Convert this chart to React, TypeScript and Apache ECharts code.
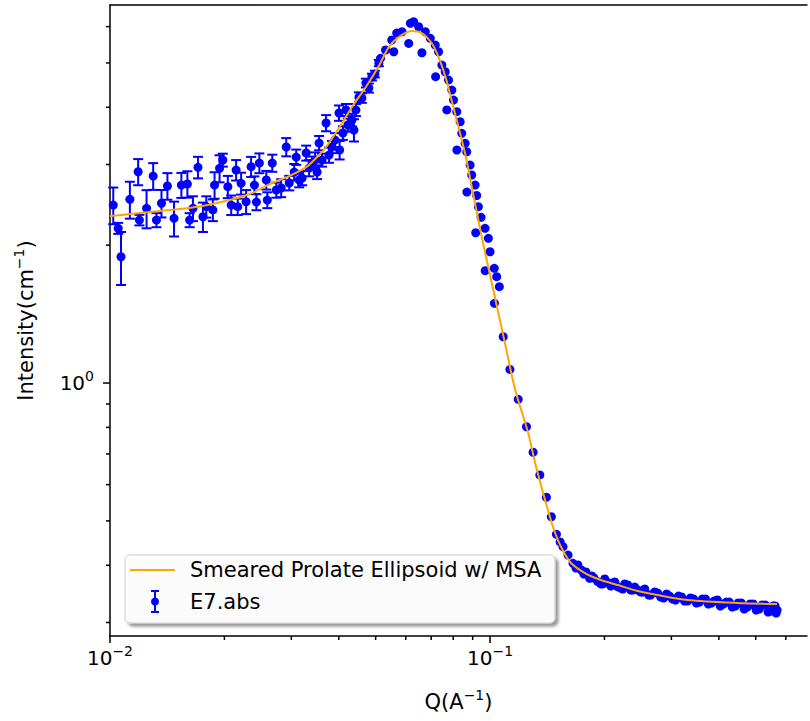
import React, { useEffect, useRef } from "react";
import * as echarts from "echarts";

const FONT = "DejaVu Sans";
const X_MIN = 0.01;
const X_MAX = 0.6823;
const Y_MIN = 0.2803;
const Y_MAX = 6.69;

// Measured data (E7.abs), low-Q part with visible error bars
const lowQ = [
  0.0102, 0.01051, 0.01069, 0.01128, 0.01186, 0.01195, 0.01248, 0.01299, 0.01325, 0.01366,
  0.01416, 0.01474, 0.01541, 0.01598, 0.0162, 0.01653, 0.01704, 0.01756, 0.01792, 0.01865,
  0.01884, 0.01942, 0.01981, 0.02042, 0.02084, 0.02147, 0.02168, 0.02213, 0.02281, 0.02351,
  0.02399, 0.02428, 0.02472, 0.02578, 0.02594, 0.02673, 0.02739, 0.02821, 0.02909, 0.02962,
  0.03052, 0.0309, 0.03146, 0.03203, 0.03282, 0.03342, 0.03403, 0.03465, 0.03507, 0.0355,
  0.03614, 0.03703, 0.0377, 0.03838, 0.03909, 0.04005, 0.0402, 0.04102, 0.04177, 0.04227,
  0.04331, 0.04384, 0.04437, 0.04519, 0.046, 0.04713, 0.04799, 0.04887, 0.04976, 0.05098,
];
const lowI = [
  2.447, 2.177, 1.887, 2.518, 2.893, 2.269, 2.407, 2.831, 2.269, 2.469,
  2.693, 2.289, 2.706, 2.72, 2.269, 2.407, 2.958, 2.307, 2.427, 2.387,
  2.706, 2.943, 3.068, 2.683, 2.447, 2.918, 2.427, 2.729, 2.488, 2.967,
  2.706, 2.484, 3.022, 2.775, 2.509, 3.022, 2.639, 2.666, 3.276, 2.734,
  2.888, 3.114, 2.775, 2.803, 3.179, 2.947, 3.022, 3.068, 2.888, 3.342,
  3.068, 3.696, 3.146, 3.276, 3.393, 3.887, 3.227, 3.515, 3.947, 3.659,
  3.752, 3.568, 3.947, 4.212, 4.191, 4.519, 4.407, 4.657, 4.728, 4.997,
];
const lowErr = [
  0.225, 0.06, 0.25, 0.233, 0.19, 0.06, 0.23, 0.19, 0.08, 0.17,
  0.18, 0.2, 0.17, 0.18, 0.08, 0.15, 0.16, 0.17, 0.13, 0.13,
  0.18, 0.2, 0.1, 0.15, 0.12, 0.15, 0.1, 0.15, 0.15, 0.15,
  0.12, 0.1, 0.15, 0.13, 0.1, 0.13, 0.1, 0.12, 0.15, 0.1,
  0.12, 0.12, 0.1, 0.1, 0.12, 0.12, 0.1, 0.12, 0.1, 0.12,
  0.1, 0.15, 0.12, 0.1, 0.12, 0.15, 0.15, 0.12, 0.12, 0.12,
  0.12, 0.2, 0.12, 0.1, 0.1, 0.1, 0.1, 0.08, 0.08, 0.08,
];

// Measured data, peak and high-Q part (error bars hidden under markers)
const highQ = [
  0.0515, 0.05308, 0.05513, 0.0558, 0.05681, 0.05866, 0.06109, 0.06171, 0.06295, 0.06488,
  0.06618, 0.06755, 0.06962, 0.07175, 0.0719, 0.07321, 0.07468, 0.07623, 0.07697, 0.07775,
  0.07932, 0.08014, 0.08175, 0.0818, 0.08344, 0.08425, 0.086, 0.08684, 0.0869, 0.08863,
  0.08949, 0.09134, 0.09168, 0.09223, 0.09317, 0.09471, 0.09703, 0.0971, 0.099, 0.1,
  0.1026, 0.1027, 0.1041, 0.1058, 0.1083, 0.1128, 0.1186, 0.1247, 0.1298, 0.1352,
  0.1407, 0.145, 0.1495, 0.1529, 0.1556, 0.1604, 0.1653, 0.1683, 0.1703, 0.1738,
  0.1766, 0.1788, 0.1828, 0.1853, 0.1876, 0.1921, 0.1957, 0.1981, 0.2004, 0.2042,
  0.2078, 0.2104, 0.2129, 0.2168, 0.2208, 0.2235, 0.2262, 0.2303, 0.2346, 0.2373,
  0.2403, 0.2446, 0.2492, 0.2521, 0.2553, 0.2616, 0.2646, 0.2712, 0.276, 0.2812,
  0.2862, 0.2915, 0.2968, 0.3022, 0.3077, 0.3133, 0.3191, 0.3249, 0.3308, 0.3368,
  0.343, 0.3492, 0.3556, 0.362, 0.3687, 0.3753, 0.3823, 0.3891, 0.3964, 0.4036,
  0.411, 0.4184, 0.4261, 0.4338, 0.4418, 0.4497, 0.4581, 0.4663, 0.475, 0.4836,
  0.4925, 0.5014, 0.5107, 0.52, 0.5297, 0.5391, 0.5491, 0.5556, 0.5623, 0.566,
  0.5692,
];
const highI = [
  5.117, 5.335, 5.61, 5.289, 5.81, 5.848, 5.516, 6.101, 6.15, 5.998,
  5.262, 5.848, 5.657, 5.47, 4.665, 5.289, 4.947, 4.783, 3.947, 4.587,
  4.362, 4.148, 3.913, 3.227, 3.72, 3.509, 3.337, 3.199, 2.612, 2.992,
  2.846, 2.706, 2.129, 2.567, 2.427, 2.301, 2.177, 1.759, 2.07, 1.935,
  1.78, 1.493, 1.707, 1.623, 1.262, 1.071, 0.9213, 0.8027, 0.706, 0.63,
  0.5631, 0.5105, 0.4673, 0.4497, 0.4391, 0.4211, 0.4039, 0.3945, 0.4006, 0.3906,
  0.3828, 0.3867, 0.3747, 0.379, 0.3752, 0.3683, 0.3641, 0.3641, 0.3734, 0.3664,
  0.3604, 0.3659, 0.3678, 0.359, 0.3567, 0.355, 0.3641, 0.3622, 0.3532, 0.3532,
  0.3585, 0.3532, 0.3497, 0.3497, 0.355, 0.3444, 0.3444, 0.3497, 0.3479, 0.341,
  0.3393, 0.3462, 0.3427, 0.3376, 0.3359, 0.3427, 0.341, 0.3342, 0.3342, 0.3393,
  0.3376, 0.3309, 0.3325, 0.3376, 0.3376, 0.3292, 0.3309, 0.3342, 0.3359, 0.3259,
  0.3292, 0.3325, 0.3325, 0.3242, 0.3259, 0.3309, 0.3309, 0.321, 0.3242, 0.3292,
  0.3292, 0.3194, 0.321, 0.3276, 0.3276, 0.3162, 0.3178, 0.3259, 0.3259, 0.3146,
  0.3194,
];

// Model fit curve
const fitQ = [
  0.01, 0.01128, 0.01273, 0.01436, 0.01721, 0.02063, 0.02327, 0.02673, 0.02962, 0.03282,
  0.03486, 0.03703, 0.04005, 0.04331, 0.04713, 0.05098, 0.05414, 0.05751, 0.06221, 0.06607,
  0.07018, 0.07321, 0.07637, 0.07918, 0.08261, 0.08616, 0.08933, 0.09546, 0.102, 0.109,
  0.1165, 0.126, 0.1322, 0.1396, 0.1465, 0.1538, 0.1633, 0.1777, 0.1957, 0.2168,
  0.2446, 0.276, 0.3308, 0.4472, 0.5692,
];
const fitI = [
  2.315, 2.339, 2.363, 2.387, 2.429, 2.509, 2.586, 2.734, 2.831, 2.962,
  3.099, 3.276, 3.604, 4.006, 4.43, 4.922, 5.414, 5.694, 5.868, 5.81,
  5.526, 5.15, 4.657, 4.148, 3.622, 3.146, 2.706, 2.052, 1.596, 1.241,
  0.9654, 0.7777, 0.6557, 0.5555, 0.4849, 0.4384, 0.4046, 0.3847, 0.3714, 0.3622,
  0.3514, 0.3444, 0.3359, 0.3309, 0.3292,
];

const xMajorTicks = [0.01, 0.1];
const xMinorTicks = [0.02, 0.03, 0.04, 0.05, 0.06, 0.07, 0.08, 0.09, 0.2, 0.3, 0.4, 0.5, 0.6];
const yMajorTicks = [1];
const yMinorTicks = [0.3, 0.4, 0.5, 0.6, 0.7, 0.8, 0.9, 2, 3, 4, 5, 6];

const fitName = "Smeared Prolate Ellipsoid w/ MSA";
const dataName = "E7.abs";
const xTitle = "Q(A{sup|\u22121})";
const yTitle = "Intensity(cm{sup|\u22121})";

const BLUE = "#0000ff";
const ORANGE = "#ffa500";

const powLabel = (v: number) => {
  const e = Math.log10(v);
  const r = Math.round(e);
  if (Math.abs(e - r) > 1e-6) return "";
  return "10{sup|" + (r < 0 ? "\u2212" + -r : String(r)) + "}";
};

const supRich = {
  sup: { fontSize: 14, fontFamily: FONT, color: "#000", padding: [0, 0, 14, 0] },
};

export default function App() {
  const ref = useRef<HTMLDivElement>(null);

  useEffect(() => {
    if (!ref.current) return;
    const chart = echarts.init(ref.current, null, { renderer: "svg" });

    const errPoints = lowQ.map((q, k) => [q, lowI[k], lowErr[k]]);
    const allPoints = [
      ...lowQ.map((q, k) => [q, lowI[k]]),
      ...highQ.map((q, k) => [q, highI[k]]),
    ];
    const fit = fitQ.map((q, k) => [q, fitI[k]]);
    const xTicks = [...xMajorTicks, ...xMinorTicks].map((v) => [v, Y_MIN]);
    const yTicks = [...yMajorTicks, ...yMinorTicks].map((v) => [X_MIN, v]);

    const legendX = 125;
    const legendY = 555;

    const option: any = {
      animation: false,
      backgroundColor: "#ffffff",
      grid: { left: 110, right: 0, top: 5, bottom: 85, containLabel: false },
      xAxis: [
        {
          type: "log",
          logBase: 10,
          min: X_MIN,
          max: X_MAX,
          name: xTitle,
          nameLocation: "middle",
          nameGap: 52,
          nameTextStyle: { fontSize: 21, fontFamily: FONT, color: "#000", rich: supRich },
          axisLine: { show: true, lineStyle: { color: "#000", width: 1.5 } },
          axisTick: { show: false },
          splitLine: { show: false },
          minorTick: { show: false },
          axisLabel: {
            formatter: powLabel,
            fontSize: 20,
            fontFamily: FONT,
            color: "#000",
            margin: 8,
            rich: supRich,
          },
        },
        {
          type: "log",
          position: "top",
          min: X_MIN,
          max: X_MAX,
          axisLine: { show: true, lineStyle: { color: "#000", width: 1.5 } },
          axisTick: { show: false },
          axisLabel: { show: false },
          splitLine: { show: false },
        },
      ],
      yAxis: {
        type: "log",
        logBase: 10,
        min: Y_MIN,
        max: Y_MAX,
        name: yTitle,
        nameLocation: "middle",
        nameGap: 70,
        nameTextStyle: { fontSize: 21, fontFamily: FONT, color: "#000", rich: supRich },
        axisLine: { show: true, lineStyle: { color: "#000", width: 1.5 } },
        axisTick: { show: false },
        splitLine: { show: false },
        axisLabel: {
          formatter: powLabel,
          fontSize: 20,
          fontFamily: FONT,
          color: "#000",
          margin: 16,
          rich: supRich,
        },
      },
      series: [
        {
          type: "custom",
          name: dataName + " errors",
          clip: false,
          z: 2,
          data: errPoints,
          encode: { x: 0, y: 1 },
          renderItem: (params: any, api: any) => {
            const q = api.value(0);
            const i = api.value(1);
            const e = api.value(2);
            const top = api.coord([q, i + e]);
            const bot = api.coord([q, i - e]);
            const x = top[0];
            const cw = 5;
            const st = { stroke: BLUE, lineWidth: 2 };
            return {
              type: "group",
              children: [
                { type: "line", shape: { x1: x, y1: top[1], x2: x, y2: bot[1] }, style: st },
                { type: "line", shape: { x1: x - cw, y1: top[1], x2: x + cw, y2: top[1] }, style: st },
                { type: "line", shape: { x1: x - cw, y1: bot[1], x2: x + cw, y2: bot[1] }, style: st },
              ],
            };
          },
        },
        {
          type: "scatter",
          name: dataName,
          z: 3,
          symbol: "circle",
          symbolSize: 9,
          itemStyle: { color: BLUE, opacity: 1 },
          data: allPoints,
        },
        {
          type: "line",
          name: fitName,
          z: 4,
          data: fit,
          showSymbol: false,
          symbol: "none",
          smooth: 0.3,
          lineStyle: { color: ORANGE, width: 2 },
        },
        {
          type: "custom",
          name: "xticks",
          clip: false,
          z: 5,
          data: xTicks,
          renderItem: (params: any, api: any) => {
            const v = api.value(0);
            const p = api.coord([v, Y_MIN]);
            const len = xMajorTicks.indexOf(v) >= 0 ? 7 : 4;
            return {
              type: "line",
              shape: { x1: p[0], y1: p[1], x2: p[0], y2: p[1] + len },
              style: { stroke: "#000", lineWidth: 1.5 },
            };
          },
        },
        {
          type: "custom",
          name: "yticks",
          clip: false,
          z: 5,
          data: yTicks,
          renderItem: (params: any, api: any) => {
            const v = api.value(1);
            const p = api.coord([X_MIN, v]);
            const len = yMajorTicks.indexOf(v) >= 0 ? 7 : 4;
            return {
              type: "line",
              shape: { x1: p[0], y1: p[1], x2: p[0] - len, y2: p[1] },
              style: { stroke: "#000", lineWidth: 1.5 },
            };
          },
        },
      ],
      graphic: [
        {
          type: "group",
          z: 100,
          children: [
            {
              type: "rect",
              shape: { x: legendX, y: legendY, width: 430, height: 68, r: 5 },
              style: {
                fill: "rgba(255,255,255,0.9)",
                stroke: "#cccccc",
                lineWidth: 1,
                shadowBlur: 3,
                shadowOffsetX: 3,
                shadowOffsetY: 3,
                shadowColor: "rgba(0,0,0,0.45)",
              },
            },
            {
              type: "line",
              shape: { x1: legendX + 5, y1: legendY + 15, x2: legendX + 50, y2: legendY + 15 },
              style: { stroke: ORANGE, lineWidth: 2 },
            },
            {
              type: "text",
              x: legendX + 65,
              y: legendY + 15,
              style: {
                text: fitName,
                fontSize: 21,
                fontFamily: FONT,
                fill: "#000",
                verticalAlign: "middle",
                align: "left",
              },
            },
            {
              type: "line",
              shape: { x1: legendX + 30, y1: legendY + 36, x2: legendX + 30, y2: legendY + 57 },
              style: { stroke: BLUE, lineWidth: 2 },
            },
            {
              type: "line",
              shape: { x1: legendX + 26, y1: legendY + 36, x2: legendX + 34, y2: legendY + 36 },
              style: { stroke: BLUE, lineWidth: 2 },
            },
            {
              type: "line",
              shape: { x1: legendX + 26, y1: legendY + 57, x2: legendX + 34, y2: legendY + 57 },
              style: { stroke: BLUE, lineWidth: 2 },
            },
            {
              type: "circle",
              shape: { cx: legendX + 30, cy: legendY + 46.5, r: 4 },
              style: { fill: BLUE },
            },
            {
              type: "text",
              x: legendX + 65,
              y: legendY + 47,
              style: {
                text: dataName,
                fontSize: 21,
                fontFamily: FONT,
                fill: "#000",
                verticalAlign: "middle",
                align: "left",
              },
            },
          ],
        },
      ],
    };

    chart.setOption(option);
    return () => chart.dispose();
  }, []);

  return (
    <div
      ref={ref}
      style={{ position: "absolute", left: 0, top: 0, width: 810, height: 721 }}
    />
  );
}
